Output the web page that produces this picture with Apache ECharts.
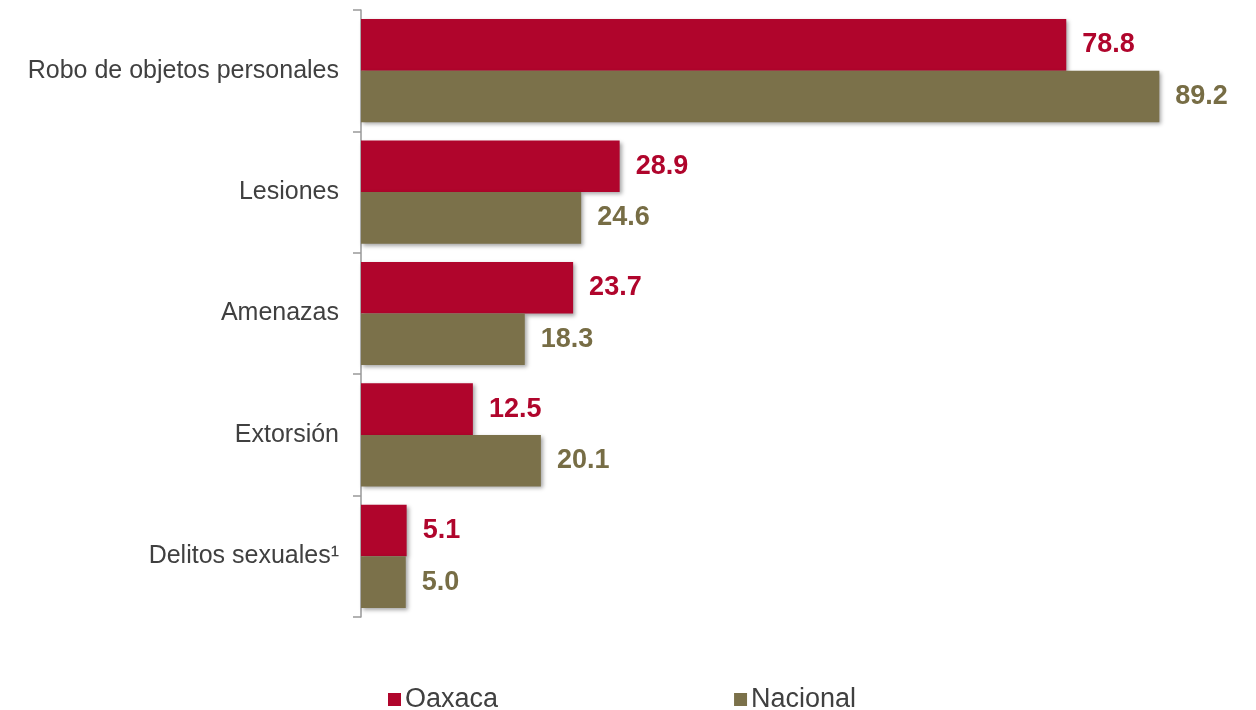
<!DOCTYPE html>
<html>
<head>
<meta charset="utf-8">
<script src="https://cdn.jsdelivr.net/npm/echarts@6/dist/echarts.min.js"></script>
<style>
  html, body { margin: 0; padding: 0; background: #ffffff; }
  #chart { width: 1256px; height: 710px; }
</style>
</head>
<body>
<div id="chart"></div>
<script>
// Delitos: porcentaje de víctimas por tipo de delito
const categories = [
  'Robo de objetos personales',
  'Lesiones',
  'Amenazas',
  'Extorsión',
  'Delitos sexuales\u00b9'
];
const oaxaca = [78.8, 28.9, 23.7, 12.5, 5.1];
const nacional = [89.2, 24.6, 18.3, 20.1, 5.0];
const seriesNames = ['Oaxaca', 'Nacional'];

const RED = '#B0052C';
const OLIVE = '#7B714A';
const FONT = '"Liberation Sans", Arial, sans-serif';

const shadow = {
  shadowBlur: 4,
  shadowOffsetX: 2,
  shadowOffsetY: 2,
  shadowColor: 'rgba(0,0,0,0.35)'
};

function barSeries(name, data, color, labelColor) {
  return {
    name: name,
    type: 'bar',
    data: data,
    barGap: '0%',
    barCategoryGap: '15%',
    itemStyle: Object.assign({ color: color }, shadow),
    label: {
      show: true,
      position: 'right',
      distance: 16,
      color: labelColor,
      fontFamily: FONT,
      fontWeight: 'bold',
      fontSize: 27,
      formatter: p => p.value.toFixed(1)
    },
    emphasis: { disabled: true }
  };
}

const chart = echarts.init(document.getElementById('chart'), null, { renderer: 'canvas' });
chart.setOption({
  animation: false,
  backgroundColor: '#ffffff',
  grid: { left: 361, top: 10, width: 896, height: 607, containLabel: false },
  legend: {
    data: seriesNames,
    left: 383,
    top: 681,
    itemWidth: 13,
    itemHeight: 13,
    itemGap: 236,
    icon: 'rect',
    textStyle: { fontFamily: FONT, fontSize: 27, color: '#404040', padding: [0, 0, 0, -1] }
  },
  xAxis: {
    type: 'value',
    min: 0,
    max: 100,
    show: false
  },
  yAxis: {
    type: 'category',
    data: categories,
    inverse: true,
    axisLine: { show: true, lineStyle: { color: '#999999', width: 1.5 } },
    axisTick: { show: true, length: 8, lineStyle: { color: '#999999', width: 1.5 } },
    axisLabel: {
      fontFamily: FONT,
      fontSize: 25,
      color: '#404040',
      margin: 22
    },
    splitLine: { show: false }
  },
  series: [
    barSeries(seriesNames[0], oaxaca, RED, '#B0052C'),
    barSeries(seriesNames[1], nacional, OLIVE, '#776D45')
  ]
});
</script>
</body>
</html>
